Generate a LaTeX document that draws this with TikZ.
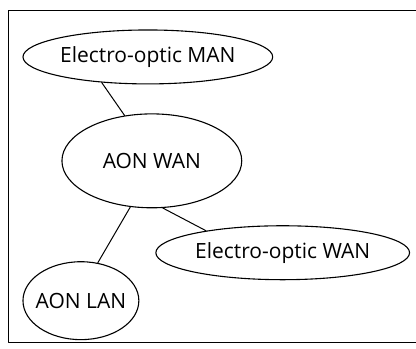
\documentclass[tikz,border=0pt]{standalone}
\usepackage{fontspec}
\setmainfont{Open Sans}
\usetikzlibrary{shapes.geometric}

\tikzset{
  net/.style={draw, ellipse, inner sep=0pt, line width=1.1pt,
              font=\fontsize{21}{25}\selectfont},
  link/.style={line width=1pt}
}

\begin{document}
\begin{tikzpicture}[x=1pt, y=-1pt, line cap=round, line join=round]

  % ── 外框（右边缺）──
  \draw[line width=0.9pt] (416,10) -- (8,10) -- (8,343) -- (416,343);

  % ── 四个网络 ──
  \node[net, minimum width=250pt, minimum height=54pt] (eoman) at (148,57)  {Electro-optic MAN};
  \node[net, minimum width=180pt, minimum height=94pt] (aonwan) at (152,161) {AON WAN};
  \node[net, minimum width=254pt, minimum height=54pt] (eowan) at (283,253) {Electro-optic WAN};
  \node[net, inner xsep=-8pt, minimum width=116pt, minimum height=78pt] (aonlan) at (81,301) {AON LAN};

  % ── 连线 ──
  \draw[link] (eoman.-151) -- (aonwan.121);
  \draw[link] (aonwan.245) -- (aonlan.66);
  \draw[link] (aonwan.-77) -- (eowan.164);

  \path[use as bounding box] (0,0) rectangle (416,349);
\end{tikzpicture}
\end{document}
